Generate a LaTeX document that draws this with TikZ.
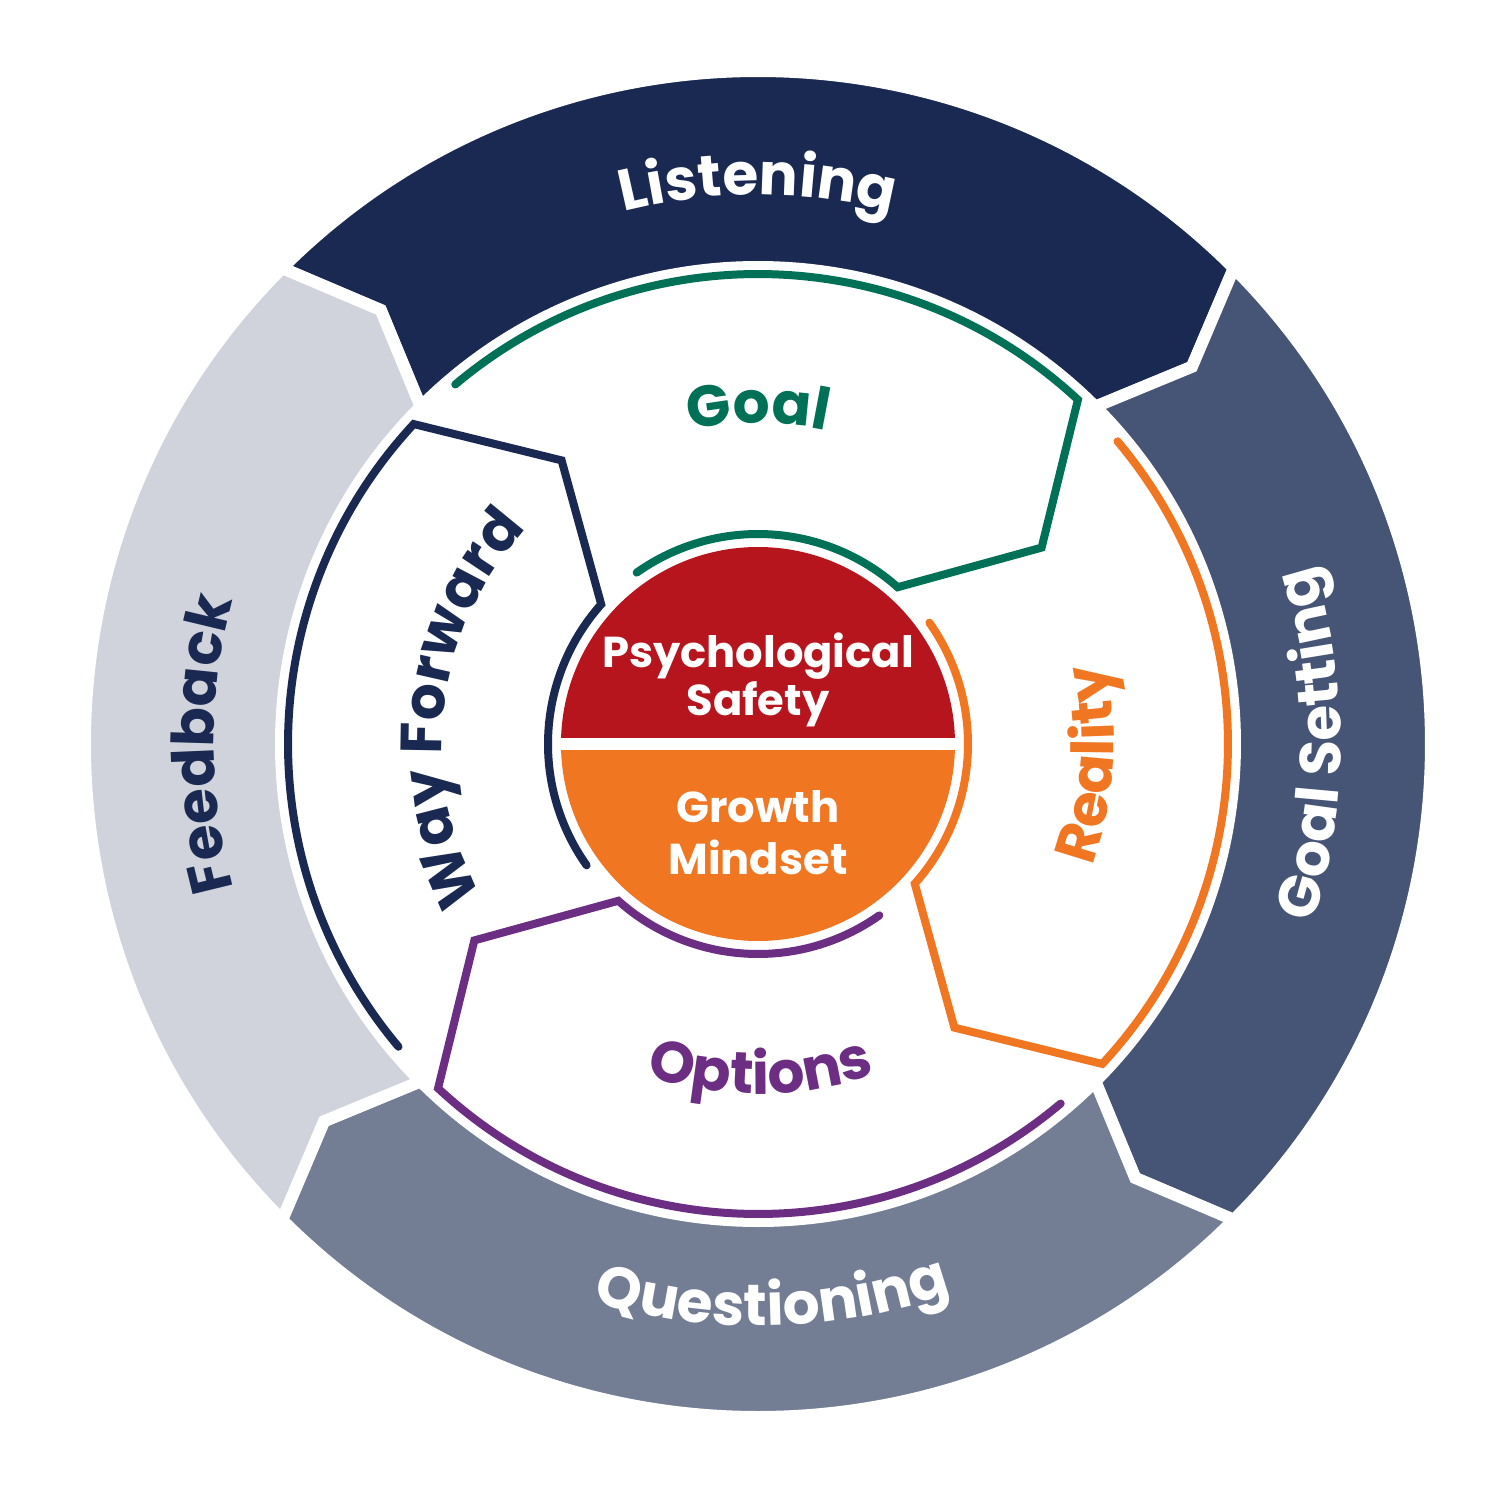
\documentclass[tikz,border=0pt]{standalone}
\usepackage{fontspec}
\setmainfont{Poppins}
\definecolor{listenblue}{RGB}{26,41,82}
\definecolor{goalsetblue}{RGB}{70,85,117}
\definecolor{questgray}{RGB}{115,126,148}
\definecolor{feedgray}{RGB}{208,211,220}
\definecolor{goalgreen}{RGB}{0,113,86}
\definecolor{realorange}{RGB}{240,118,34}
\definecolor{optpurple}{RGB}{107,46,130}
\definecolor{safetyred}{RGB}{183,21,30}
\usetikzlibrary{decorations.text}
\newcommand{\ringfont}{\fontsize{16.5}{18}\selectfont\bfseries}
\newcommand{\corefont}{\fontsize{12.3}{14}\selectfont\bfseries}

\begin{document}
\begin{tikzpicture}[
  seg/.style={draw=white, line width=1.2mm, line join=miter},
  trail/.style={line width=0.8mm, line cap=round, line join=miter},
  curved/.style={decorate, decoration={text along path, text align=center, text={#1}}},
  core/.style={text=white, font=\corefont, inner sep=0pt, anchor=base},
]
\useasboundingbox (-7.58,-7.56) rectangle (7.42,7.44);

% --- Outer ring: four arrow segments, running clockwise ---
\fill[listenblue, seg] (135:6.73) arc[start angle=135, end angle=45, radius=6.73]
  -- (41:5.75) -- (45:4.77) arc[start angle=45, end angle=135, radius=4.77] -- (131:5.75) -- cycle;
\fill[goalsetblue, seg] (45:6.73) arc[start angle=45, end angle=-45, radius=6.73]
  -- (-49:5.75) -- (-45:4.77) arc[start angle=-45, end angle=45, radius=4.77] -- (41:5.75) -- cycle;
\fill[questgray, seg] (-45:6.73) arc[start angle=-45, end angle=-135, radius=6.73]
  -- (-139:5.75) -- (-135:4.77) arc[start angle=-135, end angle=-45, radius=4.77] -- (-49:5.75) -- cycle;
\fill[feedgray, seg] (225:6.73) arc[start angle=225, end angle=135, radius=6.73]
  -- (131:5.75) -- (135:4.77) arc[start angle=135, end angle=225, radius=4.77] -- (221:5.75) -- cycle;

% --- Outer ring labels ---
\path[curved={|\ringfont\color{white}|Listening}] (130:5.49) arc[start angle=130, end angle=50, radius=5.49];
\path[curved={|\ringfont\color{white}|Goal Setting}] (-40:5.83) arc[start angle=-40, end angle=40, radius=5.83];
\path[curved={|\ringfont\color{white}|Questioning}] (-128.5:5.82) arc[start angle=-128.5, end angle=-48.5, radius=5.82];
\path[curved={|\ringfont\color{listenblue}|Feedback}] (220:5.44) arc[start angle=220, end angle=140, radius=5.44];

% --- Middle ring: GROW trails ---
\draw[trail, goalgreen] (125.3:2.10) arc[start angle=125.3, end angle=48.3, radius=2.10]
  -- (34.7:3.45) -- (47.1:4.70) arc[start angle=47.1, end angle=130.1, radius=4.70];
\draw[trail, realorange] (35.3:2.10) arc[start angle=35.3, end angle=-41.7, radius=2.10]
  -- (-55.3:3.45) -- (-42.9:4.70) arc[start angle=-42.9, end angle=40.1, radius=4.70];
\draw[trail, optpurple] (-54.7:2.10) arc[start angle=-54.7, end angle=-131.7, radius=2.10]
  -- (-145.3:3.45) -- (-132.9:4.70) arc[start angle=-132.9, end angle=-49.9, radius=4.70];
\draw[trail, listenblue] (215.3:2.10) arc[start angle=215.3, end angle=138.3, radius=2.10]
  -- (124.7:3.45) -- (137.1:4.70) arc[start angle=137.1, end angle=220.1, radius=4.70];

% --- Middle ring labels ---
\path[curved={|\ringfont\color{goalgreen}|Goal}] (140:3.21) arc[start angle=140, end angle=40, radius=3.21];
\path[curved={|\ringfont\color{realorange}|Reality}] (-53.5:3.56) arc[start angle=-53.5, end angle=46.5, radius=3.56];
\path[curved={|\ringfont\color{optpurple}|Options}] (-139.5:3.50) arc[start angle=-139.5, end angle=-39.5, radius=3.50];
\path[curved={|\ringfont\color{listenblue}|Way Forward}] (223:3.16) arc[start angle=223, end angle=123, radius=3.16];

% --- Centre disc ---
\fill[safetyred] (0:1.97) arc[start angle=0, end angle=180, radius=1.97] -- cycle;
\fill[realorange] (180:1.97) arc[start angle=180, end angle=360, radius=1.97] -- cycle;
\draw[white, line width=1.2mm] (-1.97,0) -- (1.97,0);

\node[core] (psych) at (0,0.77) {Psychological};
\node[core] (safety) at (0,0.29) {Safety};
\node[core] (growth) at (0,-0.78) {Growth};
\node[core] (mindset) at (0,-1.30) {Mindset};

\end{tikzpicture}
\end{document}
